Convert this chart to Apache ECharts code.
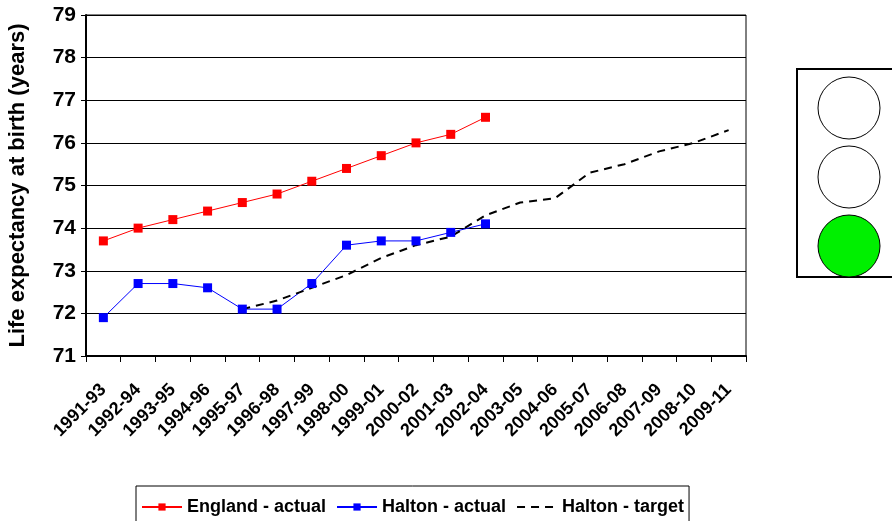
<!DOCTYPE html>
<html><head><meta charset="utf-8">
<script src="https://cdn.jsdelivr.net/npm/echarts@6/dist/echarts.min.js"></script>
<style>html,body{margin:0;padding:0;background:#fff}#c{width:892px;height:521px}</style>
</head><body><div id="c"></div>
<script>
var categories = ["1991-93","1992-94","1993-95","1994-96","1995-97","1996-98","1997-99","1998-00","1999-01","2000-02","2001-03","2002-04","2003-05","2004-06","2005-07","2006-08","2007-09","2008-10","2009-11"];
var englandActual = [73.7,74.0,74.2,74.4,74.6,74.8,75.1,75.4,75.7,76.0,76.2,76.6,null,null,null,null,null,null,null];
var haltonActual = [71.9,72.7,72.7,72.6,72.1,72.1,72.7,73.6,73.7,73.7,73.9,74.1,null,null,null,null,null,null,null];
var haltonTarget = [null,null,null,null,72.1,72.3,72.6,72.9,73.3,73.6,73.8,74.3,74.6,74.7,75.3,75.5,75.8,76.0,76.3];
var yTicks = [71,72,73,74,75,76,77,78,79];

var chart = echarts.init(document.getElementById('c'), null, {renderer:'canvas'});
var FONT = '"Liberation Sans", Arial, sans-serif';
chart.setOption({
  animation:false,
  backgroundColor:'#fff',
  grid:{left:86,top:15,right:146,bottom:165,outerBoundsMode:'none',containLabel:false,show:true,borderColor:'#000',borderWidth:1,backgroundColor:'transparent'},
  xAxis:{type:'category',data:categories,boundaryGap:true,
    axisLine:{lineStyle:{color:'#000',width:2}},
    axisTick:{show:true,length:6,lineStyle:{color:'#000',width:1}},
    axisLabel:{rotate:45,margin:31,color:'#000',fontWeight:'bold',fontSize:18,fontFamily:FONT,interval:0}},
  yAxis:{type:'value',min:yTicks[0],max:yTicks[yTicks.length-1],interval:1,
    name:'Life expectancy at birth (years)',nameLocation:'middle',nameGap:57,
    nameTextStyle:{color:'#000',fontWeight:'bold',fontSize:22,fontFamily:FONT},
    axisLine:{show:true,lineStyle:{color:'#000',width:2}},
    axisTick:{show:true,length:5,lineStyle:{color:'#000',width:1}},
    splitLine:{show:true,lineStyle:{color:'#000',width:1}},
    axisLabel:{color:'#000',fontWeight:'bold',fontSize:21,fontFamily:FONT,margin:10}},
  legend:{top:486,left:136,width:556,itemGap:10,itemWidth:40,itemHeight:9,
    padding:[12,5,20,5],borderColor:'#000',borderWidth:1,
    textStyle:{color:'#000',fontWeight:'bold',fontSize:18,fontFamily:FONT},
    data:['England - actual','Halton - actual','Halton - target']},
  series:[
    {name:'England - actual',type:'line',data:englandActual,symbol:'rect',symbolSize:9,
      itemStyle:{color:'#ff0000'},lineStyle:{color:'#ff0000',width:1}},
    {name:'Halton - actual',type:'line',data:haltonActual,symbol:'rect',symbolSize:9,
      itemStyle:{color:'#0000ff'},lineStyle:{color:'#0000ff',width:1}},
    {name:'Halton - target',type:'line',data:haltonTarget,symbol:'rect',showSymbol:false,
      itemStyle:{color:'rgba(0,0,0,0)'},lineStyle:{color:'#000',width:2,type:[8,6]}}
  ],
  graphic:[
    {type:'rect',shape:{x:797,y:69,width:110,height:208},style:{fill:'#fff',stroke:'#000',lineWidth:2}},
    {type:'circle',shape:{cx:849,cy:108,r:31},style:{fill:'#fff',stroke:'#000',lineWidth:1}},
    {type:'circle',shape:{cx:849,cy:177,r:31},style:{fill:'#fff',stroke:'#000',lineWidth:1}},
    {type:'circle',shape:{cx:849,cy:246,r:31},style:{fill:'#00f000',stroke:'#000',lineWidth:1}}
  ]
});
</script></body></html>
